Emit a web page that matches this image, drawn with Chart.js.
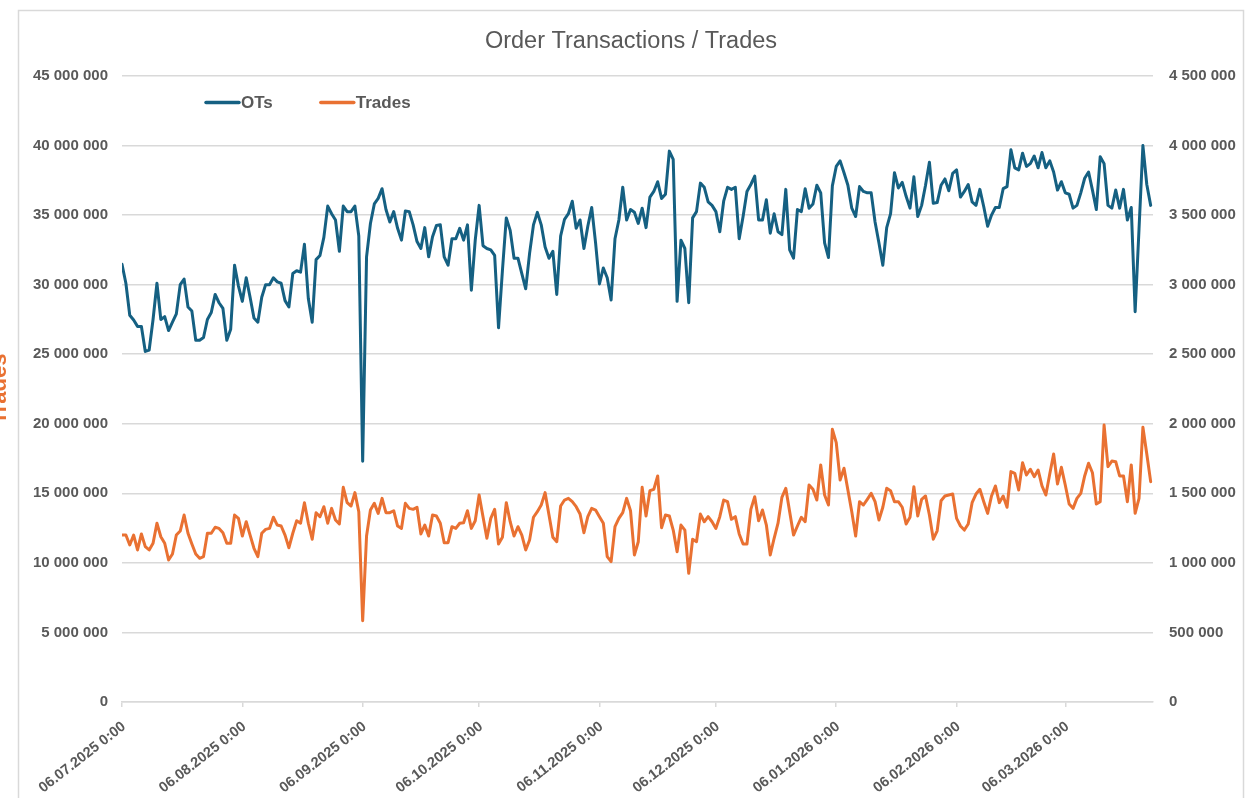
<!DOCTYPE html>
<html><head><meta charset="utf-8">
<script src="https://cdn.jsdelivr.net/npm/chart.js@4.4.1/dist/chart.umd.min.js"></script>
<style>
html,body{margin:0;padding:0;background:#fff;overflow:hidden;width:1247px;height:798px;}
#wrap{position:absolute;left:-13px;top:0;width:1260px;height:798px;}
</style></head><body>
<div id="wrap"><canvas id="c" width="1260" height="798"></canvas></div>
<script>
const chartTitle = 'Order Transactions / Trades';
const leftAxisTitle = 'Trades';
const seriesNames = ['OTs', 'Trades'];
const seriesColors = ['#156082', '#E97132'];
const tickDays = [0, 31, 62, 92, 123, 153, 184, 215, 243];
const tickLabels = ['06.07.2025 0:00','06.08.2025 0:00','06.09.2025 0:00','06.10.2025 0:00','06.11.2025 0:00','06.12.2025 0:00','06.01.2026 0:00','06.02.2026 0:00','06.03.2026 0:00'];
const leftMax = 45000000, leftStep = 5000000;
const rightMax = 4500000, rightStep = 500000;

// OTs, millions, one value per day from 06.07.2025
const otsM = [
31.46,30.1,27.8,27.46,27.0,27.0,25.2,25.3,27.5,30.1,
27.5,27.7,26.7,27.3,27.9,30.0,30.4,28.4,28.1,26.0,
26.0,26.2,27.5,28.0,29.3,28.7,28.3,26.0,26.8,31.4,
29.9,28.8,30.5,29.1,27.6,27.3,29.1,30.0,30.0,30.5,
30.2,30.1,28.85,28.4,30.8,31.0,30.9,32.9,29.0,27.3,
31.8,32.1,33.4,35.65,35.1,34.65,32.4,35.65,35.25,35.25,
35.65,33.5,17.3,
32.0,34.4,35.8,36.2,36.9,35.4,34.5,35.25,34.05,33.2,
35.3,35.25,34.3,33.1,32.6,34.1,32.0,33.45,34.25,34.3,
32.0,31.4,33.3,33.3,34.05,33.2,34.3,29.6,33.2,
35.7,32.8,32.6,32.5,32.1,26.9,31.0,34.8,33.9,31.9,
31.9,30.8,29.7,32.25,34.3,35.2,34.3,32.7,31.9,32.4,
29.3,33.5,34.7,35.1,36.0,34.05,34.65,32.6,34.2,35.55,
33.0,
30.05,31.2,30.5,28.9,33.3,34.65,37.0,34.65,35.4,35.2,
34.4,35.5,34.1,36.3,36.7,37.4,36.2,36.5,39.6,39.0,
28.8,33.2,32.6,28.7,34.8,35.25,37.3,37.0,35.95,35.7,
35.25,33.8,36.0,37.0,36.85,37.0,33.3,34.9,36.7,37.2,
37.8,34.65,34.65,36.1,33.7,35.1,33.8,33.6,36.85,32.5,
31.9,35.4,35.25,36.9,35.5,35.8,37.15,36.6,33.0,31.95,
37.1,
38.5,38.9,38.05,37.15,35.5,34.9,37.05,36.7,36.6,36.6,
34.5,33.0,31.4,34.1,35.1,38.05,36.95,37.35,36.35,35.5,
37.75,34.9,35.7,37.15,38.8,35.85,35.9,37.15,37.6,36.75,
38.0,
38.25,36.3,36.7,37.2,35.95,35.7,36.85,35.6,34.2,35.0,
35.55,35.55,36.9,37.05,39.7,38.4,38.25,39.45,38.5,38.7,
39.25,38.4,39.5,38.4,38.9,38.1,36.8,37.4,
36.6,36.5,35.5,35.7,36.6,37.65,38.1,36.8,35.4,39.2,
38.7,35.7,35.5,36.8,35.5,36.85,34.65,35.55,28.05,34.0,
40.0,37.2,35.7
];

// Trades, millions, one value per day from 06.07.2025
const tradesM = [
1.200,1.200,1.129,1.200,1.093,1.208,1.117,1.093,1.141,1.285,
1.188,1.141,1.021,1.064,1.200,1.229,1.344,1.213,1.136,1.064,
1.033,1.045,1.213,1.213,1.256,1.248,1.217,1.141,1.141,1.344,
1.320,1.193,1.296,1.200,1.105,1.045,1.213,1.241,1.248,1.328,
1.272,1.265,1.200,1.109,1.213,1.303,1.285,1.433,1.285,1.170,
1.361,1.332,1.404,1.285,1.392,1.308,1.280,1.543,1.433,1.409,
1.505,1.368,0.584,
1.193,1.380,1.428,1.356,1.464,1.361,1.361,1.375,1.265,1.248,
1.428,1.392,1.385,1.400,1.208,1.272,1.193,1.344,1.337,1.285,
1.145,1.145,1.260,1.248,1.285,1.289,1.375,1.248,1.303,
1.488,1.332,1.177,1.320,1.385,1.136,1.184,1.433,1.296,1.193,
1.260,1.200,1.093,1.165,1.328,1.368,1.416,1.505,1.344,1.184,
1.152,1.409,1.452,1.464,1.440,1.404,1.351,1.217,1.332,1.392,
1.380,
1.332,1.285,1.045,1.009,1.260,1.320,1.361,1.464,1.375,1.057,
1.152,1.543,1.337,1.519,1.529,1.625,1.253,1.344,1.337,1.236,
1.080,1.272,1.236,0.925,1.170,1.152,1.351,1.296,1.332,1.296,
1.248,1.332,1.452,1.440,1.313,1.332,1.208,1.136,1.136,1.385,
1.476,1.303,1.380,1.272,1.057,1.177,1.285,1.471,1.536,1.368,
1.200,1.265,1.328,1.296,1.560,1.529,1.452,1.704,1.488,1.416,
1.960,
1.864,1.596,1.680,1.524,1.368,1.193,1.440,1.416,1.457,1.500,
1.440,1.308,1.400,1.536,1.519,1.440,1.440,1.400,1.280,1.328,
1.548,1.337,1.457,1.481,1.344,1.170,1.231,1.447,1.481,1.488,
1.495,1.320,1.265,1.236,1.280,1.433,1.495,1.529,1.440,1.356,
1.481,1.553,1.433,1.481,1.400,1.656,1.644,1.524,1.720,1.632,
1.673,1.620,1.668,1.553,1.488,1.639,1.783,1.567,1.687,1.560,
1.423,1.392,1.464,1.500,1.625,1.716,1.648,1.423,1.440,1.991,
1.692,1.732,1.727,1.625,1.625,1.440,1.704,1.356,1.464,1.975,
1.783,1.584
];

const FONT = "'Liberation Sans', Arial, sans-serif";
const GREY = '#595959';
const GRID = '#d9d9d9';
const fmt = v => String(Math.round(v)).replace(/\B(?=(\d{3})+(?!\d))/g, ' ');

const frame = {
  id: 'frame',
  beforeDraw(chart) {
    const ctx = chart.ctx;
    ctx.save();
    ctx.fillStyle = '#fff';
    ctx.fillRect(0, 0, chart.width, chart.height);
    ctx.strokeStyle = GRID;
    ctx.lineWidth = 1.5;
    ctx.strokeRect(31.5, 10.5, 1225, 820);
    ctx.restore();
  },
  afterLayout(chart) {
    const t = chart.titleBlock;
    if (t) { t.left = 31; t.right = 1257; }
  }
};

const inlineLegend = {
  id: 'inlineLegend',
  afterDatasetsDraw(chart) {
    const ctx = chart.ctx;
    const a = chart.chartArea;
    let x = a.left + 83;
    const y = a.top + 26.5;
    ctx.save();
    ctx.font = 'bold 17px ' + FONT;
    ctx.textBaseline = 'middle';
    ctx.textAlign = 'left';
    chart.data.datasets.forEach(ds => {
      ctx.strokeStyle = ds.borderColor;
      ctx.lineWidth = 3.5;
      ctx.lineCap = 'round';
      ctx.beginPath();
      ctx.moveTo(x + 1, y);
      ctx.lineTo(x + 34, y);
      ctx.stroke();
      ctx.fillStyle = GREY;
      ctx.fillText(ds.label, x + 36, y + 1);
      x += 36 + ctx.measureText(ds.label).width + 47;
    });
    ctx.restore();
  }
};

new Chart(document.getElementById('c'), {
  type: 'line',
  data: {
    datasets: [
      { label: seriesNames[0], data: otsM.map((v, i) => ({ x: i, y: v * 1e6 })), yAxisID: 'yL',
        borderColor: seriesColors[0], backgroundColor: seriesColors[0], borderWidth: 3,
        pointRadius: 0, tension: 0, borderJoinStyle: 'round', borderCapStyle: 'round' },
      { label: seriesNames[1], data: tradesM.map((v, i) => ({ x: i, y: v * 1e6 })), yAxisID: 'yR',
        borderColor: seriesColors[1], backgroundColor: seriesColors[1], borderWidth: 3,
        pointRadius: 0, tension: 0, borderJoinStyle: 'round', borderCapStyle: 'round' }
    ]
  },
  options: {
    responsive: false,
    animation: false,
    devicePixelRatio: 1,
    layout: { padding: 0 },
    plugins: {
      legend: { display: false },
      tooltip: { enabled: false },
      title: { display: true, text: chartTitle, color: GREY,
        font: { family: FONT, size: 23.5, weight: 'normal' },
        padding: { top: 27, bottom: 20.8 } }
    },
    scales: {
      x: {
        type: 'linear', min: 0, max: 265.6,
        afterBuildTicks: s => { s.ticks = tickDays.map(v => ({ value: v })); },
        afterFit: s => { s.height = 96; },
        ticks: { autoSkip: false, maxRotation: 38, minRotation: 38, padding: 11, labelOffset: 2,
          color: GREY, font: { family: FONT, size: 14.5, weight: 'bold' },
          callback: (v, i) => tickLabels[i] },
        grid: { drawOnChartArea: false, drawTicks: true, tickLength: 5, color: GRID, lineWidth: 1.5 },
        border: { display: true, color: GRID, width: 1.5 }
      },
      yL: {
        position: 'left', min: 0, max: leftMax,
        afterFit: s => { s.width = 135; },
        ticks: { stepSize: leftStep, padding: 14, color: GREY,
          font: { family: FONT, size: 15, weight: 'bold' }, callback: v => fmt(v) },
        grid: { color: GRID, lineWidth: 1.5, drawTicks: false },
        border: { display: false },
        title: { display: true, text: leftAxisTitle, color: seriesColors[1], padding: 0,
          font: { family: FONT, size: 22, weight: 'bold' } }
      },
      yR: {
        position: 'right', min: 0, max: rightMax,
        afterFit: s => { s.width = 94; },
        ticks: { stepSize: rightStep, padding: 16, color: GREY,
          font: { family: FONT, size: 15, weight: 'bold' }, callback: v => fmt(v) },
        grid: { drawOnChartArea: false, drawTicks: false },
        border: { display: false }
      }
    }
  },
  plugins: [frame, inlineLegend]
});
</script>
</body></html>
